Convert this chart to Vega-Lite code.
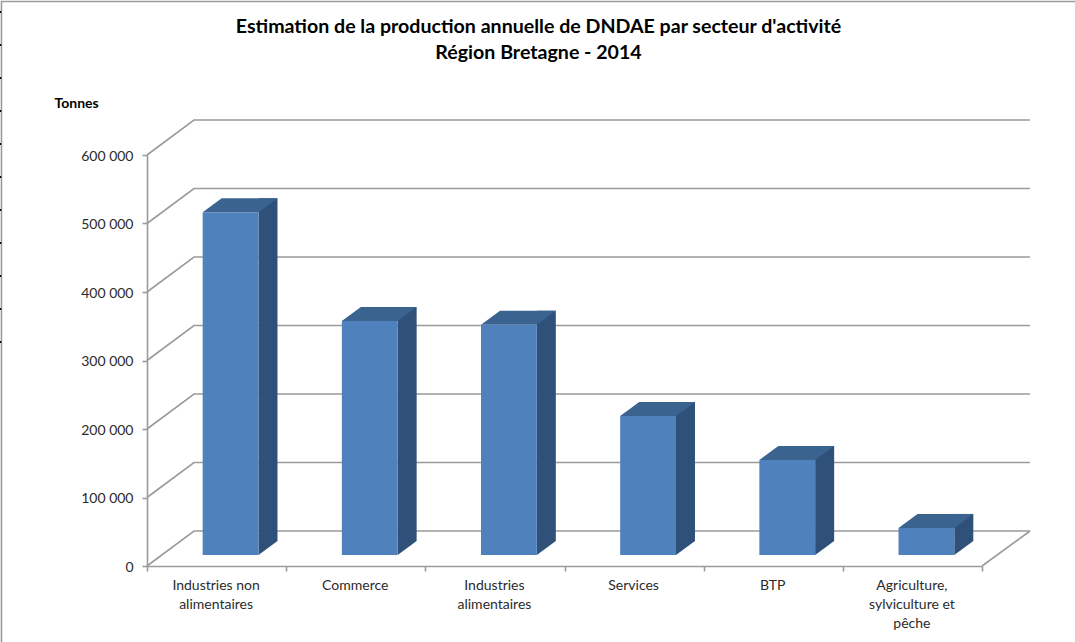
{
  "$schema": "https://vega.github.io/schema/vega-lite/v6.json",
  "width": 835,
  "height": 411,
  "autosize": "none",
  "padding": {"left": 147, "top": 155, "right": 93, "bottom": 76},
  "background": "#ffffff",
  "title": {
    "text": ["Estimation de la production annuelle de DNDAE par secteur d'activité", "Région Bretagne - 2014"],
    "font": "Lato", "fontSize": 19.6, "fontWeight": "bold", "color": "#000000",
    "anchor": "middle", "frame": "group", "offset": 0, "dx": -26, "dy": 65, "lineHeight": 26
  },
  "config": {"view": {"stroke": null}},
  "datasets": {
    "secteurs": [
      {"secteur": "Industries non alimentaires", "tonnes": 500500},
      {"secteur": "Commerce", "tonnes": 341500},
      {"secteur": "Industries alimentaires", "tonnes": 336000},
      {"secteur": "Services", "tonnes": 203000},
      {"secteur": "BTP", "tonnes": 138700},
      {"secteur": "Agriculture, sylviculture et pêche", "tonnes": 39500}
    ],
    "graduations": [
      {"tonnes": 0}, {"tonnes": 100000}, {"tonnes": 200000}, {"tonnes": 300000},
      {"tonnes": 400000}, {"tonnes": 500000}, {"tonnes": 600000}
    ]
  },
  "encoding": {
    "x": {
      "title": null,
      "type": "nominal",
      "scale": {"domain": ["Industries non alimentaires", "Commerce", "Industries alimentaires", "Services", "BTP", "Agriculture, sylviculture et pêche"], "paddingInner": 0, "paddingOuter": 0},
      "axis": {
        "domainColor": "#9b9b9b", "domainWidth": 1.6, "tickColor": "#9b9b9b", "tickWidth": 1.6, "tickSize": 5,
        "tickBand": "extent", "labelAngle": 0, "labelAlign": "center", "labelBaseline": "top", "labelPadding": 7,
        "labelFont": "Lato", "labelFontSize": 14, "labelColor": "#2b2b2b", "labelLimit": 300, "labelLineHeight": 19, "labelOverlap": false, "labelOffset": -1,
        "grid": false,
        "labelExpr": "datum.label == 'Industries non alimentaires' ? ['Industries non', 'alimentaires'] : datum.label == 'Industries alimentaires' ? ['Industries', 'alimentaires'] : datum.label == 'Agriculture, sylviculture et pêche' ? ['Agriculture,', 'sylviculture et', 'pêche'] : datum.label"
      }
    }
  },
  "layer": [
    {
      "data": {"name": "graduations"},
      "mark": {"type": "point", "shape": "M-69.6,0 L-22.6,-35 L813.4,-35", "size": 4, "filled": false, "stroke": "#9b9b9b", "strokeWidth": 1.6, "opacity": 1},
      "encoding": {
        "x": {"datum": "Industries non alimentaires"},
        "y": {
          "title": "Tonnes",
          "field": "tonnes",
          "type": "quantitative",
          "scale": {"domain": [0, 600000], "nice": false},
          "axis": {
            "values": [0, 100000, 200000, 300000, 400000, 500000, 600000],
            "domainColor": "#9b9b9b", "domainWidth": 1.6, "tickColor": "#9b9b9b", "tickWidth": 1.6, "tickSize": 5, "grid": false,
            "labelPadding": 9, "labelFont": "Lato", "labelFontSize": 14, "labelColor": "#2b2b2b", "labelOffset": 1,
            "labelExpr": "replace(format(datum.value, ','), ',', ' ')",
            "titleAngle": 0, "titleFont": "Lato", "titleFontSize": 14, "titleFontWeight": "bold", "titleColor": "#000000",
            "titleAlign": "left", "titleBaseline": "middle", "titleX": -93, "titleY": -52
          }
        }
      }
    },
    {
      "data": {"values": [{"tonnes": 0}]},
      "mark": {"type": "point", "shape": "M69.6,0 L117.6,-35", "size": 4, "filled": false, "stroke": "#9b9b9b", "strokeWidth": 1.6, "opacity": 1},
      "encoding": {"x": {"datum": "Agriculture, sylviculture et pêche"}, "y": {"field": "tonnes", "type": "quantitative", "title": "Tonnes"}}
    },
    {
      "data": {"values": [{"tonnes": 600000}]},
      "mark": {"type": "point", "shape": "M-215.1,487 L-215.1,-153.5 L858.4,-153.5", "size": 4, "filled": false, "stroke": "#9b9b9b", "strokeWidth": 1.6, "opacity": 1},
      "encoding": {"x": {"datum": "Industries non alimentaires"}, "y": {"field": "tonnes", "type": "quantitative", "title": "Tonnes"}}
    },
    {
      "data": {"values": [{"tonnes": 600000}]},
      "mark": {"type": "point", "shape": "M-216.1,-144 L-216.1,190", "size": 4, "filled": false, "stroke": "#000000", "strokeWidth": 1.5, "strokeDash": [2, 31], "opacity": 1},
      "encoding": {"x": {"datum": "Industries non alimentaires"}, "y": {"field": "tonnes", "type": "quantitative", "title": "Tonnes"}}
    },
    {
      "data": {"name": "secteurs"},
      "mark": {"type": "bar", "width": 19, "color": "#2f5179", "xOffset": 51.4, "yOffset": -25, "y2Offset": -25, "opacity": 1},
      "encoding": {"x": {"field": "secteur"}, "y": {"field": "tonnes", "type": "quantitative", "title": "Tonnes"}}
    },
    {
      "data": {"name": "secteurs"},
      "mark": {"type": "point", "shape": "M41.9,-11 L60.9,-25 L41.9,-25 Z", "size": 4, "filled": true, "fill": "#2f5179", "opacity": 1},
      "encoding": {"x": {"field": "secteur"}, "y": {"datum": 0, "type": "quantitative", "title": "Tonnes"}}
    },
    {
      "data": {"name": "secteurs"},
      "mark": {"type": "point", "shape": "M-13.9,-11 L41.9,-11 L60.9,-25 L5.1,-25 Z", "size": 4, "filled": true, "fill": "#3b6390", "opacity": 1},
      "encoding": {"x": {"field": "secteur"}, "y": {"field": "tonnes", "type": "quantitative", "title": "Tonnes"}}
    },
    {
      "data": {"name": "secteurs"},
      "mark": {"type": "bar", "width": 55.8, "color": "#4f81bd", "xOffset": 14, "yOffset": -11, "y2Offset": -11, "opacity": 1},
      "encoding": {"x": {"field": "secteur"}, "y": {"field": "tonnes", "type": "quantitative", "title": "Tonnes"}}
    }
  ]
}
